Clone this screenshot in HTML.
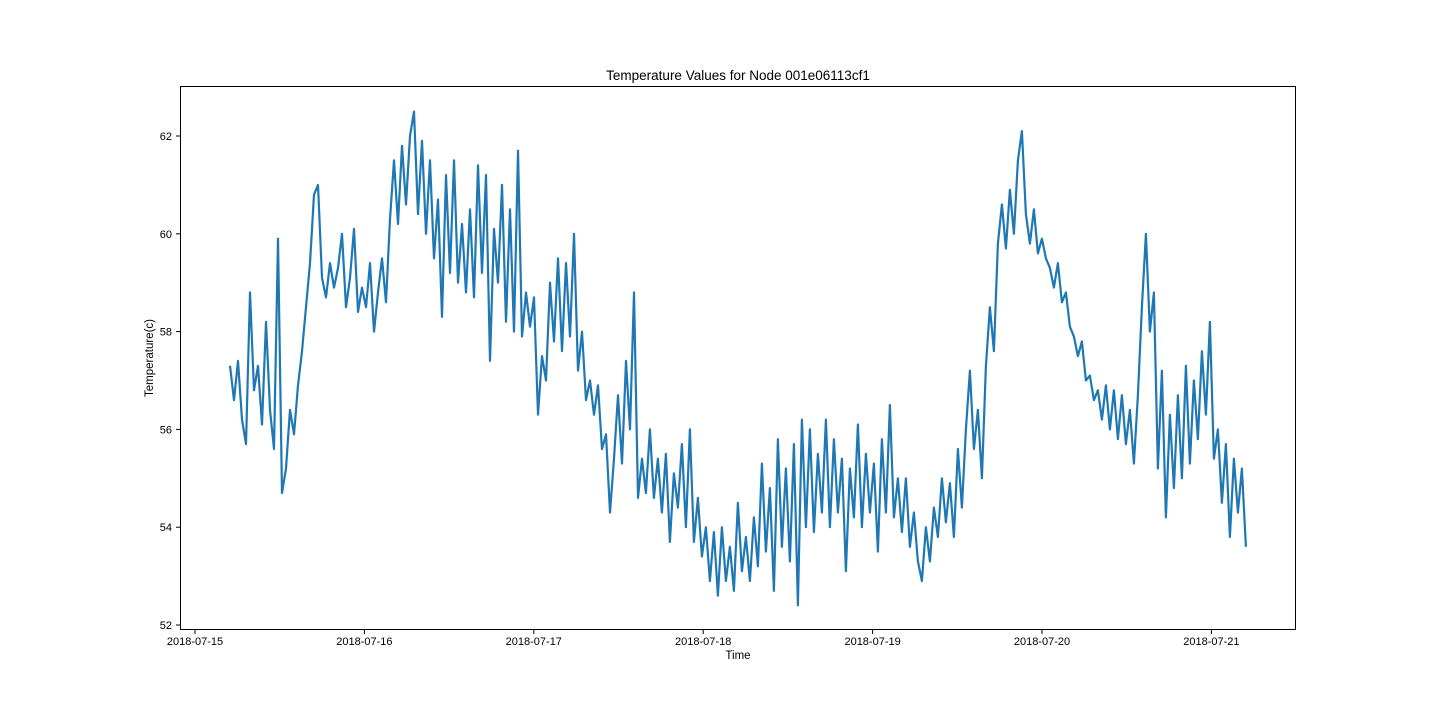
<!DOCTYPE html>
<html><head><meta charset="utf-8"><style>
body{margin:0;background:#fff;}
svg text{font-family:"Liberation Sans",sans-serif;fill:#000;}
</style></head><body>
<svg id="chart" width="1440" height="720" xmlns="http://www.w3.org/2000/svg">
<rect width="1440" height="720" fill="#fff"/>
<text x="738" y="80" font-size="13.5" text-anchor="middle">Temperature Values for Node 001e06113cf1</text>
<text x="738" y="659" font-size="11.5" text-anchor="middle">Time</text>
<text x="0" y="0" font-size="11.5" text-anchor="middle" transform="translate(153,358) rotate(-90)">Temperature(c)</text>
<g id="xticks"></g>
<g id="yticks"></g>
<path id="series" fill="none" stroke="#1f77b4" stroke-width="2.2" stroke-linejoin="round"/>
<rect x="180.5" y="86.5" width="1115" height="543" fill="none" stroke="#000" stroke-width="1"/>
</svg>
<script>
const xTickLabels = ["2018-07-15","2018-07-16","2018-07-17","2018-07-18","2018-07-19","2018-07-20","2018-07-21"];
const xTickDays = [0,1,2,3,4,5,6];
const yTickValues = [52,54,56,58,60,62];
const startDay = 0.2066;
const stepDays = 0.02361;
const temps = [57.3,56.6,57.4,56.2,55.7,58.8,56.8,57.3,56.1,58.2,56.4,55.6,59.9,54.7,55.2,56.4,55.9,56.9,57.6,58.5,
59.4,60.8,61.0,59.1,58.7,59.4,58.9,59.3,60.0,58.5,59.1,60.1,58.4,58.9,58.5,59.4,58.0,58.8,59.5,58.6,
60.3,61.5,60.2,61.8,60.6,62.0,62.5,60.4,61.9,60.0,61.5,59.5,60.7,58.3,61.2,59.2,61.5,59.0,60.2,58.8,
60.5,58.7,61.4,59.2,61.2,57.4,60.1,59.0,61.0,58.2,60.5,58.0,61.7,57.9,58.8,58.1,58.7,56.3,57.5,57.0,
59.0,57.8,59.5,57.6,59.4,57.9,60.0,57.2,58.0,56.6,57.0,56.3,56.9,55.6,55.9,54.3,55.4,56.7,55.3,57.4,
56.0,58.8,54.6,55.4,54.7,56.0,54.6,55.4,54.3,55.5,53.7,55.1,54.4,55.7,54.0,56.0,53.7,54.6,53.4,54.0,
52.9,53.9,52.6,54.0,52.9,53.6,52.7,54.5,53.1,53.8,52.9,54.2,53.2,55.3,53.5,54.8,52.7,55.8,53.6,55.2,
53.3,55.7,52.4,56.2,54.0,56.0,53.9,55.5,54.3,56.2,54.0,55.8,54.3,55.4,53.1,55.2,54.2,56.1,54.0,55.5,
54.3,55.3,53.5,55.8,54.3,56.5,54.2,55.0,53.9,55.0,53.6,54.3,53.3,52.9,54.0,53.3,54.4,53.8,55.0,54.1,
54.9,53.8,55.6,54.4,56.0,57.2,55.6,56.4,55.0,57.3,58.5,57.6,59.8,60.6,59.7,60.9,60.0,61.5,62.1,60.4,
59.8,60.5,59.6,59.9,59.5,59.3,58.9,59.4,58.6,58.8,58.1,57.9,57.5,57.8,57.0,57.1,56.6,56.8,56.2,56.9,
56.0,56.8,55.8,56.7,55.7,56.4,55.3,56.7,58.5,60.0,58.0,58.8,55.2,57.2,54.2,56.3,54.8,56.7,55.0,57.3,
55.3,57.0,55.8,57.6,56.3,58.2,55.4,56.0,54.5,55.7,53.8,55.4,54.3,55.2,53.6];

function xScale(d){ return 195 + d*169.4; }
function yScale(v){ return 625 - (v-52)*48.9; }

const NS="http://www.w3.org/2000/svg";
const xg=document.getElementById('xticks');
xTickDays.forEach((d,i)=>{
  const x=xScale(d);
  const l=document.createElementNS(NS,'line');
  l.setAttribute('x1',x);l.setAttribute('x2',x);l.setAttribute('y1',630);l.setAttribute('y2',634);l.setAttribute('stroke','#000');
  
  
  xg.appendChild(l);
  const t=document.createElementNS(NS,'text');
  t.setAttribute('x',x);t.setAttribute('y',645);t.setAttribute('font-size','11');t.setAttribute('text-anchor','middle');
  t.textContent=xTickLabels[i];
  
  
  xg.appendChild(t);
});
const yg=document.getElementById('yticks');
yTickValues.forEach(v=>{
  const y=yScale(v);
  const l=document.createElementNS(NS,'line');
  l.setAttribute('x1',176);l.setAttribute('x2',180);l.setAttribute('y1',y);l.setAttribute('y2',y);l.setAttribute('stroke','#000');
  
  
  yg.appendChild(l);
  const t=document.createElementNS(NS,'text');
  t.setAttribute('x',172);t.setAttribute('y',y+4);t.setAttribute('font-size','11');t.setAttribute('text-anchor','end');
  t.textContent=v;
  
  
  yg.appendChild(t);
});
let d='';
temps.forEach((v,i)=>{
  d+=(i?'L':'M')+xScale(startDay+i*stepDays).toFixed(1)+','+yScale(v).toFixed(1);
});
document.getElementById('series').setAttribute('d',d);
</script>
</body></html>
